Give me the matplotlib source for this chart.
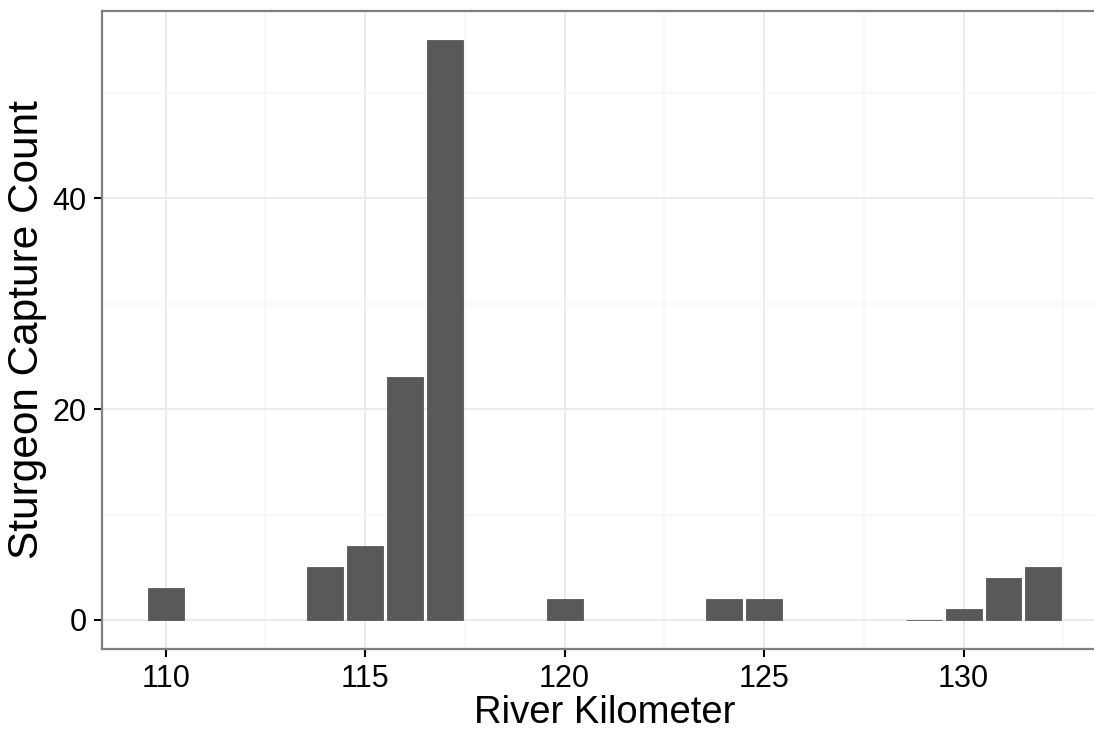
import matplotlib
matplotlib.use("Agg")
import matplotlib.pyplot as plt
from matplotlib.ticker import MultipleLocator

# river kilometer and sturgeon capture counts
river_km = [110, 114, 115, 116, 117, 120, 124, 125, 129, 130, 131, 132]
capture_count = [3, 5, 7, 23, 55, 2, 2, 2, 0, 1, 4, 5]

x_ticks = [110, 115, 120, 125, 130]
y_ticks = [0, 20, 40]

plt.rcParams['font.family'] = ['Liberation Sans', 'DejaVu Sans']

fig = plt.figure(figsize=(10.94, 7.30), dpi=100)
# panel runs a little past the right edge of the figure, like the original
ax = fig.add_axes([0.0932, 0.111, 0.9187, 0.874])

ax.bar(river_km, capture_count, width=0.9, color='#595959',
       edgecolor='#595959', linewidth=0.6, zorder=3)

# ggplot style padding: 5% of data range on each side
lo = min(river_km) - 0.45
hi = max(river_km) + 0.45
pad = (hi - lo) * 0.05
ax.set_xlim(lo - pad, hi + pad)
ytop = max(capture_count)
ax.set_ylim(-ytop * 0.05, ytop * 1.05)

ax.set_xticks(x_ticks)
ax.set_yticks(y_ticks)
ax.xaxis.set_minor_locator(MultipleLocator(2.5))
ax.yaxis.set_minor_locator(MultipleLocator(10))

ax.grid(which='major', color='#ebebeb', linewidth=1.4, zorder=0)
ax.grid(which='minor', color='#f6f6f6', linewidth=1.1, zorder=0)
ax.set_axisbelow(True)

for side in ['top', 'bottom', 'left']:
    ax.spines[side].set_color('#7f7f7f')
    ax.spines[side].set_linewidth(1.6)
# right border falls outside the picture in the original
ax.spines['right'].set_visible(False)

ax.tick_params(which='major', length=6, width=1.5, color='black',
               labelsize=22, labelcolor='black')
ax.tick_params(axis='x', pad=5)
ax.tick_params(axis='y', pad=5)
ax.tick_params(which='minor', length=0)

ax.set_xlabel('River Kilometer', fontsize=27.5, labelpad=0.5)
ax.set_ylabel('Sturgeon Capture Count', fontsize=30.5, labelpad=4)

fig.savefig('out.png', dpi=100)
